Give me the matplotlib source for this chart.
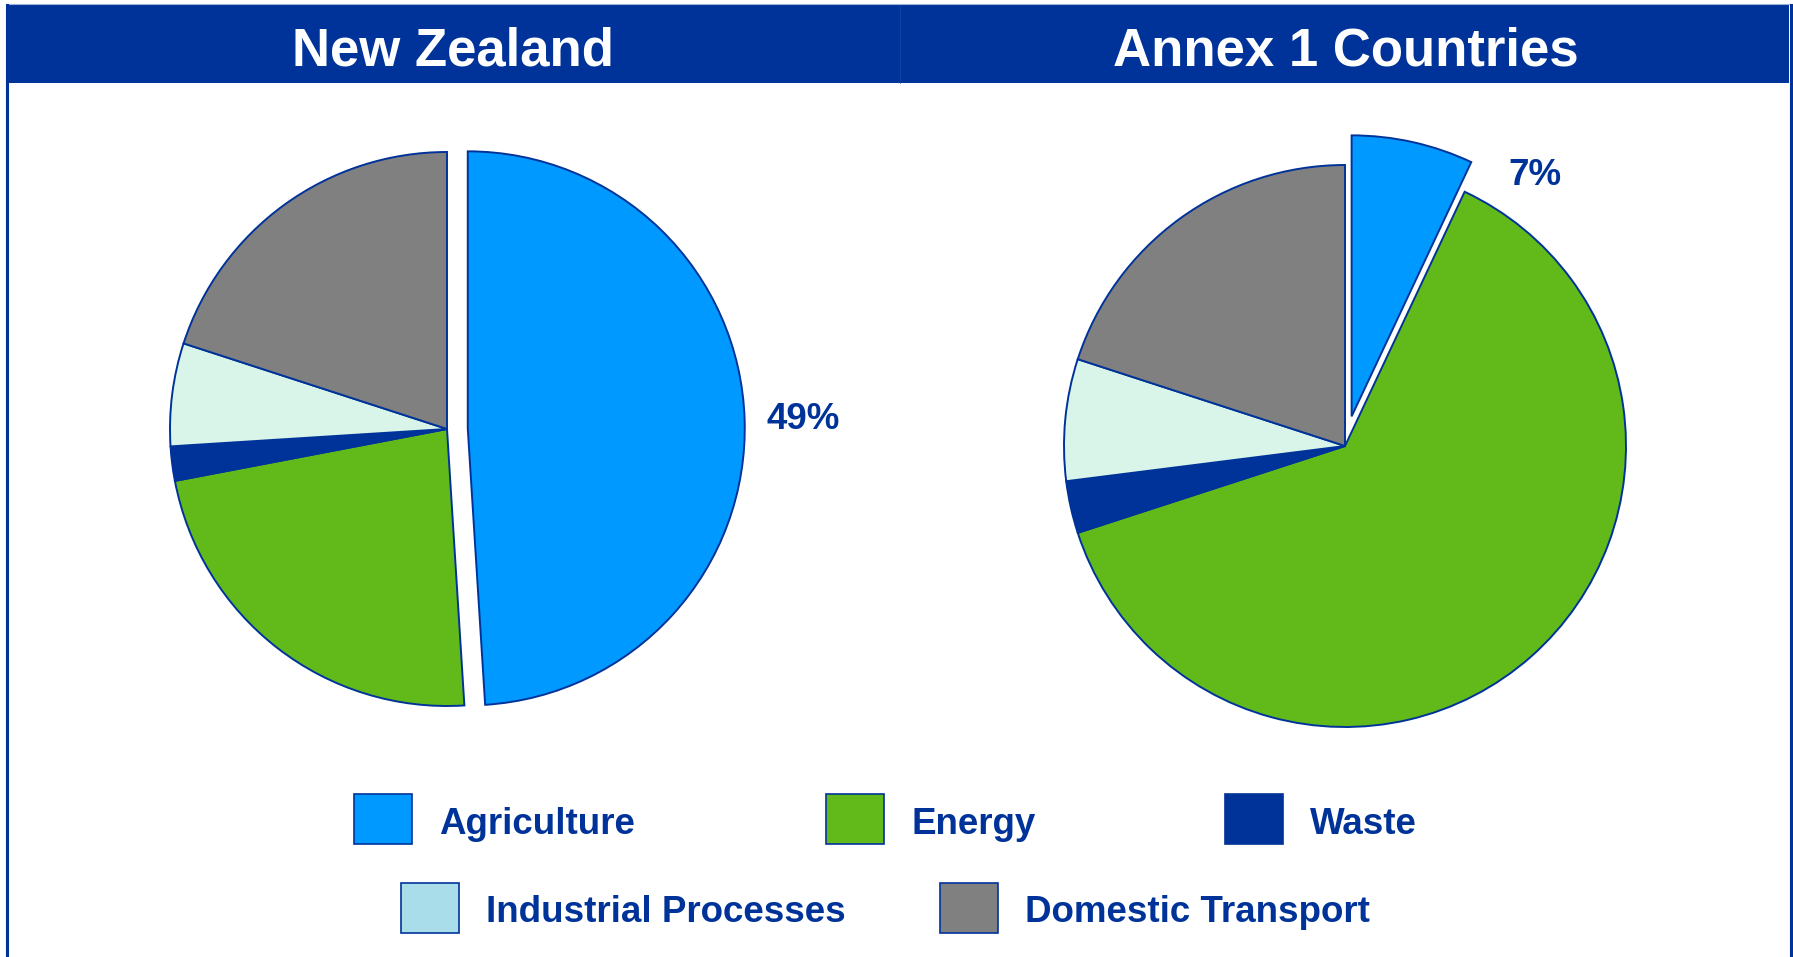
import matplotlib
matplotlib.use("Agg")
import matplotlib.pyplot as plt
from matplotlib.patches import Rectangle
import numpy as np

# ---------------- data ----------------
categories = ["Agriculture", "Energy", "Waste", "Industrial Processes", "Domestic Transport"]
nz_values = [49, 23, 2, 6, 20]
annex_values = [7, 63, 3, 7, 20]
panel_titles = ["New Zealand", "Annex 1 Countries"]
pie_colors = ["#0099FF", "#62BA1A", "#003399", "#D9F5EA", "#808080"]
legend_colors = ["#0099FF", "#62BA1A", "#003399", "#A9DDEA", "#808080"]

DARK = "#003399"
W, H = 1793, 957
FONT = "Liberation Sans"

fig = plt.figure(figsize=(W / 100, H / 100), dpi=100)
fig.patch.set_facecolor("white")


def fx(x):
    return x / W


def fy(y):
    return 1 - y / H


# frame / header
bg = fig.add_axes([0, 0, 1, 1])
bg.set_xlim(0, W)
bg.set_ylim(H, 0)
bg.axis("off")
bg.add_patch(Rectangle((6, 5), 1783, 78, facecolor=DARK, edgecolor="none"))
bg.plot([6, 1789], [4, 4], color="#9DB0D6", lw=0.8)
bg.plot([900, 900], [5, 83], color="#1A48A3", lw=0.5)
bg.plot([7, 7], [5, H], color=DARK, lw=2.2)
bg.plot([1791, 1791], [5, H], color=DARK, lw=2.2)

title_x = [453, 1346]
for t, x in zip(panel_titles, title_x):
    bg.text(x, 51, t, ha="center", va="center", color="white",
            fontsize=38, fontweight="bold", family=FONT)


def pie_axes(cx, cy, r, span=1.45):
    ax = fig.add_axes([fx(cx - span * r), fy(cy + span * r),
                       2 * span * r / W, 2 * span * r / H])
    return ax, span


# NZ pie
ax1, s1 = pie_axes(447, 429, 277)
ax1.pie(nz_values, colors=pie_colors, startangle=90, counterclock=False,
        explode=[0.075, 0, 0, 0, 0],
        wedgeprops=dict(edgecolor=DARK, linewidth=1.4))
ax1.set_xlim(-s1, s1)
ax1.set_ylim(-s1, s1)
ax1.set_aspect("equal")
ax1.text(1.285, 0.035, f"{nz_values[0]}%", ha="center", va="center",
         color=DARK, fontsize=26.5, fontweight="bold", family=FONT)

# Annex pie
ax2, s2 = pie_axes(1345, 446, 281)
ax2.pie(annex_values, colors=pie_colors, startangle=90, counterclock=False,
        explode=[0.108, 0, 0, 0, 0],
        wedgeprops=dict(edgecolor=DARK, linewidth=1.4))
ax2.set_xlim(-s2, s2)
ax2.set_ylim(-s2, s2)
ax2.set_aspect("equal")
ax2.text(0.675, 0.962, f"{annex_values[0]}%", ha="center", va="center",
         color=DARK, fontsize=26.5, fontweight="bold", family=FONT)

# legend (manual layout as in the original slide)
leg_pos = [(354, 819), (826, 819), (1225, 819), (401, 908), (940, 908)]
bw, bh = 58, 50
for name, col, (x, y) in zip(categories, legend_colors, leg_pos):
    bg.add_patch(Rectangle((x, y - bh / 2), bw, bh, facecolor=col,
                           edgecolor=DARK, linewidth=1.2))
    bg.text(x + bw + 27, y + 5, name, ha="left", va="center", color=DARK,
            fontsize=26.5, fontweight="bold", family=FONT)

fig.savefig("out.png", dpi=100, facecolor="white")
